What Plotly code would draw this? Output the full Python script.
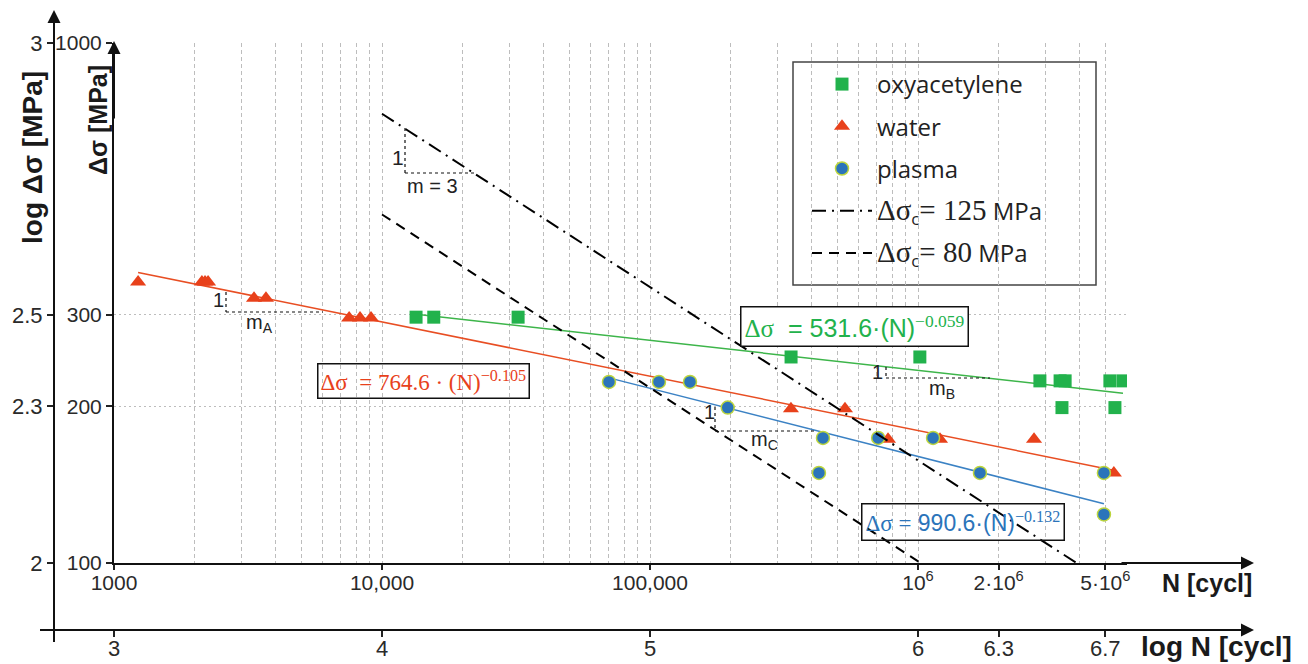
import math
import plotly.graph_objects as go

# ---------------- data ----------------
oxy_N = [13400, 15600, 32200, 336000, 1016000, 2850000, 3390000, 3540000, 5200000, 5820000, 3445000, 5430000]
oxy_S = [297, 297, 297, 249, 249, 224, 224, 224, 224, 224, 199, 199]

water_N = [1230, 2128, 2186, 2244, 3330, 3690, 7540, 8280, 9100, 335700, 534000, 773000, 1208000, 2710000, 5380000]
water_S = [347, 347, 347, 347, 323, 323, 296, 296, 296, 198, 198, 173, 173, 173, 149]

plasma_N = [70300, 108000, 141000, 195000, 442000, 427000, 710000, 1138000, 1703000, 4940000, 4940000]
plasma_S = [223, 223, 223, 199, 174, 149, 174, 174, 149, 149, 124]

# fitted lines (end points)
oxy_fit_N = [13400, 5820000]
oxy_fit_S = [301, 212]
water_fit_N = [1230, 5300000]
water_fit_S = [362, 151]
plasma_fit_N = [70300, 4940000]
plasma_fit_S = [227, 130]

# detail category lines (m = 3)
c125_N = [10000, 3906000]
c125_S = [731, 100]
c80_N = [10000, 1024000]
c80_S = [468, 100]

# axis ticks
x_tickvals = [1000, 10000, 100000, 1000000, 2000000, 5000000]
x_ticktext = ["1000", "10,000", "100,000", "10<sup>6</sup>", "2·10<sup>6</sup>", "5·10<sup>6</sup>"]
x_minor = [k * 10 ** e for e in (3, 4, 5) for k in range(2, 10)] + [3000000, 4000000, 6000000]
y_tickvals = [100, 200, 300, 1000]
logN_tickvals = [3, 4, 5, 6, 6.30103, 6.69897]
logN_ticktext = ["3", "4", "5", "6", "6.3", "6.7"]
logS_tickvals = [2, 2.30103, 2.47712, 3]
logS_ticktext = ["2", "2.3", "2.5", "3"]

# ---------------- layout helpers ----------------
# the page body adds an 8px offset, so the figure is 8px smaller and
# positions below are given in screen pixels
OFF = 8
W, H = 1308 - OFF, 664 - OFF
ML, MR, MT, MB = 40 - OFF, 58, 12 - OFF, 34
PW = W - ML - MR
PH = H - MT - MB
X0 = ML + OFF            # screen x of paper left
Y0 = H - MB + OFF        # screen y of paper bottom


def px(x):
    return (x - X0) / PW


def py(y):
    return (Y0 - y) / PH


GREEN = "#22B24C"
RED = "#E8411B"
BLUE = "#2B74BA"
GRID = "#BDBDBD"
SANS = "Liberation Sans"
SERIF = "Liberation Serif"

fig = go.Figure()

# fitted lines
fig.add_trace(go.Scatter(x=oxy_fit_N, y=oxy_fit_S, mode="lines", line=dict(color="#3DB54A", width=1.5),
                         showlegend=False, hoverinfo="skip"))
fig.add_trace(go.Scatter(x=water_fit_N, y=water_fit_S, mode="lines", line=dict(color="#E84E23", width=1.5),
                         showlegend=False, hoverinfo="skip"))
fig.add_trace(go.Scatter(x=plasma_fit_N, y=plasma_fit_S, mode="lines", line=dict(color="#3B82C4", width=1.5),
                         showlegend=False, hoverinfo="skip"))

# markers
fig.add_trace(go.Scatter(x=oxy_N, y=oxy_S, mode="markers", name="oxyacetylene", legendgroup="a",
                         marker=dict(symbol="square", size=13, color=GREEN)))
fig.add_trace(go.Scatter(x=water_N, y=water_S, mode="markers", name="water", legendgroup="b",
                         marker=dict(symbol="triangle-up", size=14, color=RED)))
fig.add_trace(go.Scatter(x=plasma_N, y=plasma_S, mode="markers", name="plasma", legendgroup="c",
                         marker=dict(symbol="circle", size=13, color=BLUE, line=dict(color="#BCD53C", width=1.5))))

# detail category lines
SER = '<span style="font-family:Liberation Serif;font-size:29px">'
MPA = '<span style="font-family:Open Sans;font-size:24px"> MPa</span>'
fig.add_trace(go.Scatter(x=c125_N, y=c125_S, mode="lines", legendgroup="d",
                         name=SER + 'Δσ</span><sub>c</sub>' + SER + '= 125</span>' + MPA,
                         line=dict(color="black", width=2, dash="14px,6px,2px,6px")))
fig.add_trace(go.Scatter(x=c80_N, y=c80_S, mode="lines", legendgroup="e",
                         name=SER + 'Δσ</span><sub>c</sub>' + SER + '= 80</span>' + MPA,
                         line=dict(color="black", width=2, dash="10px,7px")))

# dummy trace so the outer (log) axes are drawn
fig.add_trace(go.Scatter(x=[None], y=[None], xaxis="x2", yaxis="y2", showlegend=False, hoverinfo="skip"))

tickfont = dict(family=SANS, size=21, color="#2a2a2a")
outerfont = dict(family=SANS, size=22, color="#2a2a2a")

fig.update_layout(
    width=W, height=H,
    margin=dict(l=ML, r=MR, t=MT, b=MB, autoexpand=False),
    paper_bgcolor="white", plot_bgcolor="rgba(0,0,0,0)",
    showlegend=True,
    legend=dict(x=px(807), y=py(62), xanchor="left", yanchor="top",
                bgcolor="rgba(0,0,0,0)", borderwidth=0,
                font=dict(family="Open Sans", size=24, color="#222"),
                itemwidth=60, traceorder="grouped", tracegroupgap=8),
    xaxis=dict(type="log", domain=[px(114), px(1127)], range=[3, 3 + (1127 - 114) / 268],
               tickvals=x_tickvals, ticktext=x_ticktext, tickfont=tickfont,
               ticks="outside", ticklen=5, tickwidth=1.5, tickcolor="#222", ticklabelstandoff=-5,
               showgrid=True, gridcolor=GRID, gridwidth=1, griddash="4px,3px",
               minor=dict(tickvals=x_minor, showgrid=True, gridcolor=GRID, gridwidth=1, griddash="4px,3px", ticks=""),
               showline=True, linecolor="#111", linewidth=2, zeroline=False, anchor="y", automargin=False),
    yaxis=dict(type="log", domain=[py(563), py(43)], range=[2, 3],
               tickvals=y_tickvals, tickfont=tickfont,
               ticks="outside", ticklen=6, tickwidth=1.5, tickcolor="#222",
               showgrid=True, gridcolor=GRID, gridwidth=1, griddash="2px,3px",
               showline=True, linecolor="#111", linewidth=2, zeroline=False, anchor="x", automargin=False),
    xaxis2=dict(domain=[0, 1], anchor="free", position=0,
                range=[3 - (114 - X0) / 268, 3 + (X0 + PW - 114) / 268],
                tickvals=logN_tickvals, ticktext=logN_ticktext, tickfont=outerfont,
                ticks="outside", ticklen=6, tickwidth=1.5, tickcolor="#222", ticklabelstandoff=-7,
                showgrid=False, zeroline=False, showline=True, linecolor="#111", linewidth=2, automargin=False),
    yaxis2=dict(domain=[0, 1], anchor="free", position=px(54),
                range=[2 - (Y0 - 563) / 520, 3 + (43 - (Y0 - PH)) / 520],
                tickvals=logS_tickvals, ticktext=logS_ticktext, tickfont=outerfont,
                ticks="outside", ticklen=6, tickwidth=1.5, tickcolor="#222",
                showgrid=False, zeroline=False, showline=True, linecolor="#111", linewidth=2, automargin=False),
)

shapes = []
# legend frame
shapes.append(dict(type="rect", xref="paper", yref="paper", x0=px(793), x1=px(1096), y0=py(285), y1=py(62),
                   line=dict(color="#444", width=1.5), fillcolor="rgba(0,0,0,0)", layer="below"))
# outer y axis extension below the outer x axis
shapes.append(dict(type="line", xref="paper", yref="paper", x0=px(54), x1=px(54), y0=py(630), y1=py(642),
                   line=dict(color="#111", width=2)))


def slope_triangle(xv, y0, y1, x1):
    shapes.append(dict(type="line", xref="paper", yref="paper", x0=px(xv), x1=px(xv), y0=py(y0), y1=py(y1),
                       line=dict(color="#111", width=1.2, dash="dot")))
    shapes.append(dict(type="line", xref="paper", yref="paper", x0=px(xv), x1=px(x1), y0=py(y1), y1=py(y1),
                       line=dict(color="#111", width=1.2, dash="dot")))


slope_triangle(405, 128, 173, 475)
slope_triangle(226, 292, 312, 323)
slope_triangle(715, 407, 431, 817)
slope_triangle(886, 367, 378, 990)
fig.update_layout(shapes=shapes)

ann = []


def label(x, y, text, size=20, color="#222", family=SANS, angle=0, **kw):
    ann.append(dict(x=px(x), y=py(y), xref="paper", yref="paper", text=text, showarrow=False,
                    font=dict(family=family, size=size, color=color), textangle=angle,
                    xanchor="center", yanchor="middle", **kw))


def arrow(xh, yh, xt, yt):
    ann.append(dict(x=px(xh), y=py(yh), xref="paper", yref="paper", text="", showarrow=True,
                    ax=xt - xh, ay=yt - yh, arrowhead=2, arrowsize=1.3, arrowwidth=2, arrowcolor="#111",
                    standoff=0, startstandoff=0))


# axis arrows
arrow(1254, 563, 1120, 563)
arrow(114, 41, 114, 120)
arrow(1254, 630, 1100, 630)
arrow(54, 10, 54, 100)

# axis titles
label(1207, 583, "<b>N [cycl]</b>", size=25, color="#1a1a1a")
label(1216, 646, "<b>log N [cycl]</b>", size=28, color="#1a1a1a")
label(33, 158, "<b>log Δσ [MPa]</b>", size=28, color="#1a1a1a", angle=-90)
label(98, 120, "<b>Δσ [MPa]</b>", size=25, color="#1a1a1a", angle=-90)

# slope labels
label(398, 157, "1", size=21)
label(432, 186, "m = 3", size=20)
label(218, 300, "1", size=20)
label(259, 323, "m<sub>A</sub>", size=20)
label(709, 412, "1", size=20)
label(764, 440, "m<sub>C</sub>", size=20)
label(877, 372, "1", size=20)
label(942, 390, "m<sub>B</sub>", size=20)

# equation boxes
ann.append(dict(x=px(423.5), y=py(381), xref="paper", yref="paper", showarrow=False,
                text="Δσ  = 764.6 · (N)<sup>−0.105</sup>",
                font=dict(family=SERIF, size=23, color=RED),
                bordercolor="#111", borderwidth=1.5, borderpad=2, bgcolor="rgba(0,0,0,0)",
                xanchor="center", yanchor="middle"))
ann.append(dict(x=px(854.5), y=py(326.5), xref="paper", yref="paper", showarrow=False,
                text='<span style="font-family:Liberation Serif">Δσ</span>  = 531.6·(N)<sup><span style="font-family:Liberation Serif">−0.059</span></sup>',
                font=dict(family=SANS, size=25, color=GREEN),
                bordercolor="#111", borderwidth=1.5, borderpad=3, bgcolor="white",
                xanchor="center", yanchor="middle"))
ann.append(dict(x=px(963), y=py(522), xref="paper", yref="paper", showarrow=False,
                text='<span style="font-family:Liberation Serif">Δσ =</span> 990.6·(N)<sup><span style="font-family:Liberation Serif">−0.132</span></sup>',
                font=dict(family=SANS, size=23, color=BLUE),
                bordercolor="#111", borderwidth=1.5, borderpad=3, bgcolor="rgba(0,0,0,0)",
                xanchor="center", yanchor="middle"))

fig.update_layout(annotations=ann)

fig.write_html("out.html")
